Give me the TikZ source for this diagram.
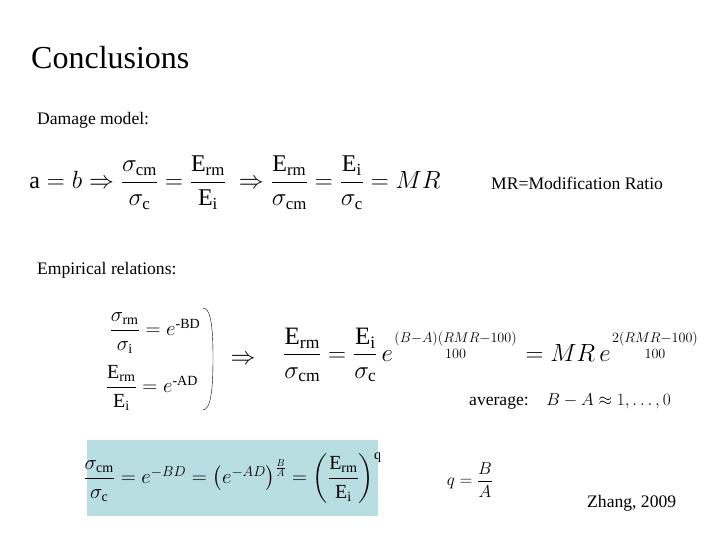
\documentclass[tikz,border=0pt]{standalone}
\usepackage{amsmath}
\usepackage{graphicx}
\usepackage{fontspec}
\setmainfont{Liberation Serif}
\definecolor{boxbg}{RGB}{184,222,226}
\newcommand{\fs}[1]{\fontsize{#1}{#1}\selectfont}
\newcommand{\expfr}[2]{\scalebox{1.18}{$\genfrac{}{}{0pt}{2}{#1}{#2}$}}
\begin{document}
\begin{tikzpicture}[x=1pt,y=-1pt,
  txt/.style={anchor=west,inner sep=0pt},
  eq/.style={anchor=center,inner sep=0pt}]
\useasboundingbox (0,0) rectangle (720,540);
\node[txt,font=\fs{32}] (title) at (31,58) {Conclusions};
\node[txt,font=\fs{17.6}] (dm) at (37,120) {Damage model:};
\node[eq,font=\fs{24}] (eq1) at (235,183) {$\mathrm{a}=b\Rightarrow\dfrac{\sigma_{\mathrm{cm}}}{\sigma_{\mathrm{c}}}=\dfrac{\mathrm{E}_{\mathrm{rm}}}{\mathrm{E}_{\mathrm{i}}}\ \Rightarrow\dfrac{\mathrm{E}_{\mathrm{rm}}}{\sigma_{\mathrm{cm}}}=\dfrac{\mathrm{E}_{\mathrm{i}}}{\sigma_{\mathrm{c}}}=MR$};
\node[txt,font=\fs{17.6}] (mr) at (491,183) {MR=Modification Ratio};
\node[txt,font=\fs{17.6}] (er) at (37,270) {Empirical relations:};
\node[eq,font=\fs{20}] (s1) at (155,333) {$\dfrac{\sigma_{\mathrm{rm}}}{\sigma_{\mathrm{i}}}=e^{\text{-BD}}$};
\node[eq,font=\fs{20}] (s2) at (152,388) {$\dfrac{\mathrm{E}_{\mathrm{rm}}}{\mathrm{E}_{\mathrm{i}}}=e^{\text{-AD}}$};
\coordinate (b1) at (203,308);
\draw (b1) .. controls ++(8,0) and ++(0,-30) .. ++(10,50) coordinate (b2) .. controls ++(0,30) and ++(8,0) .. ++(-10,52) coordinate (b3);
\node[eq,font=\fs{25}] (imp) at (243,360) {$\Rightarrow$};
\node[anchor=west,inner sep=0pt,font=\fs{25}] (eq2) at (283,355) {$\dfrac{\mathrm{E}_{\mathrm{rm}}}{\sigma_{\mathrm{cm}}}=\dfrac{\mathrm{E}_{\mathrm{i}}}{\sigma_{\mathrm{c}}}\,e^{\expfr{(B-A)(RMR-100)}{100}}=MR\,e^{\expfr{2(RMR-100)}{100}}$};
\node[txt,font=\fs{17.6}] (avg) at (469,401) {average:\quad $B-A\approx1,\ldots,0$};
\node[draw=none,fill=boxbg,minimum width=291,minimum height=76,inner sep=0pt] (box) at (232.5,478) {};
\node[eq,font=\fs{20}] (eq3) at (box) {$\dfrac{\sigma_{\mathrm{cm}}}{\sigma_{\mathrm{c}}}=e^{-BD}=\left(e^{-AD}\right)^{\frac{B}{A}}=\left(\dfrac{\mathrm{E}_{\mathrm{rm}}}{\mathrm{E}_{\mathrm{i}}}\right)^{\mathrm{q}}$};
\node[eq,font=\fs{17.6}] (q) at (470,480) {$q=\dfrac{B}{A}$};
\node[txt,font=\fs{17.6}] (zh) at (587,503) {Zhang, 2009};
\end{tikzpicture}
\end{document}
